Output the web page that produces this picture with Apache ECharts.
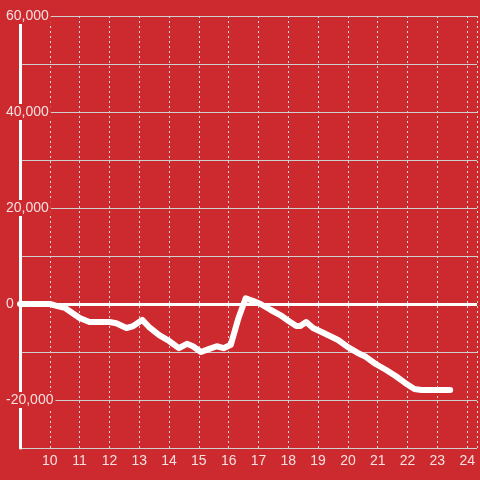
<!DOCTYPE html>
<html>
<head>
<meta charset="utf-8">
<script src="https://cdn.jsdelivr.net/npm/echarts@6/dist/echarts.min.js"></script>
<style>
html,body{margin:0;padding:0;background:#cc2a2e;}
#chart{width:480px;height:480px;}
</style>
</head>
<body>
<div id="chart"></div>
<script>
// hour of day
const hours = [9.0, 10.0, 10.23, 10.5, 11.0, 11.33, 12.0, 12.23, 12.57, 12.8, 13.1, 13.33, 13.67, 14.0, 14.33, 14.6, 14.8, 15.07, 15.33, 15.6, 15.83, 16.07, 16.33, 16.57, 16.83, 17.07, 17.4, 17.73, 18.0, 18.27, 18.4, 18.6, 18.83, 19.17, 19.67, 20.0, 20.33, 20.6, 20.93, 21.27, 21.6, 21.93, 22.23, 22.47, 23.43];
const values = [0, 0, -400, -800, -2900, -3750, -3750, -4000, -5000, -4600, -3300, -4800, -6500, -7700, -9200, -8300, -8800, -10000, -9400, -8800, -9200, -8500, -2900, 1200, 600, 0, -1200, -2300, -3500, -4600, -4600, -3750, -5000, -6000, -7500, -9000, -10200, -11000, -12500, -13700, -15000, -16500, -17700, -17900, -17900];
const yLabelValues = [60000, 40000, 20000, 0, -20000];

const data = hours.map((h, i) => [h, values[i]]);
const bg = '#cc2a2e';
const chart = echarts.init(document.getElementById('chart'));
chart.setOption({
  backgroundColor: bg,
  animation: false,
  grid: { left: 20, right: 0, top: 16, bottom: 32, containLabel: false },
  xAxis: {
    type: 'value', min: 9, max: 24.33, interval: 1,
    axisLine: { show: false }, axisTick: { show: false },
    axisLabel: {
      color: 'rgba(255,255,255,0.85)', fontSize: 14, fontFamily: 'Liberation Sans, Arial, sans-serif', margin: 6,
      showMinLabel: true, showMaxLabel: true,
      formatter: v => (Number.isInteger(v) && v > 9) ? String(v) : ''
    },
    splitLine: { show: true, lineStyle: { color: '#dddddd', type: [2, 3], width: 1 } }
  },
  yAxis: [
    {
      type: 'value', min: -30000, max: 60000, interval: 10000, position: 'left',
      axisLine: { show: true, onZero: false, lineStyle: { color: '#ffffff', width: 3 } },
      axisTick: { show: false }, axisLabel: { show: false },
      splitLine: { show: true, lineStyle: { color: '#cfcfcf', width: 1 } }
    },
    {
      type: 'value', min: -30000, max: 60000, interval: 10000, position: 'left', z: 5,
      axisLine: { show: false }, axisTick: { show: false }, splitLine: { show: false },
      axisLabel: {
        color: 'rgba(255,255,255,0.85)', fontSize: 14, fontFamily: 'Liberation Sans, Arial, sans-serif',
        align: 'left', margin: 14, backgroundColor: bg, padding: [1, 2, 1, 0],
        formatter: v => yLabelValues.includes(v) ? v.toLocaleString('en-US') : ''
      }
    }
  ],
  series: [{
    type: 'line', data: data, yAxisIndex: 0, showSymbol: false, symbol: 'none',
    lineStyle: { color: '#ffffff', width: 6, join: 'round', cap: 'round' },
    z: 3,
    markLine: {
      silent: true, symbol: 'none', label: { show: false },
      lineStyle: { color: '#ffffff', width: 3, type: 'solid' },
      data: [{ yAxis: 0 }]
    }
  }]
});
</script>
</body>
</html>
